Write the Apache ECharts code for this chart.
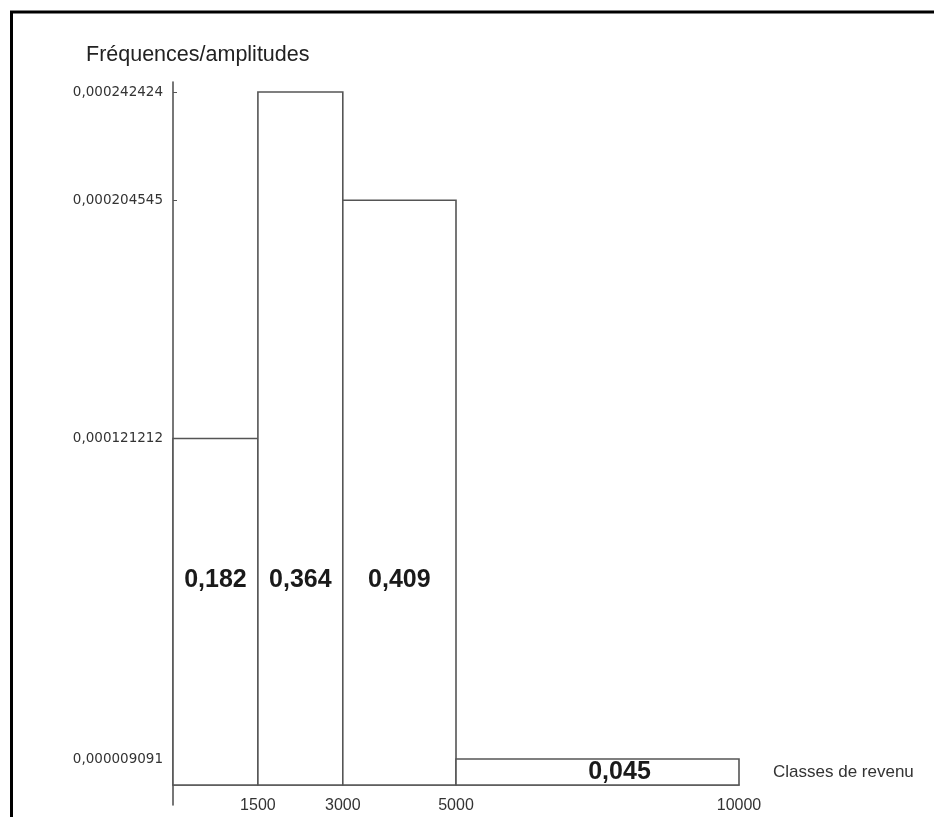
<!DOCTYPE html>
<html>
<head>
<meta charset="utf-8">
<script src="https://cdn.jsdelivr.net/npm/echarts@6/dist/echarts.min.js"></script>
<style>
  html, body { margin: 0; padding: 0; background: #fff; }
  #chart { width: 934px; height: 817px; }
</style>
</head>
<body>
<div id="chart"></div>
<script>
// Income classes (bounds), density = frequency / class width, and relative frequency
const classStarts = [0, 1500, 3000, 5000];
const classEnds = [1500, 3000, 5000, 10000];
const densities = [0.000121212, 0.000242424, 0.000204545, 0.000009091];
const frequencies = [0.182, 0.364, 0.409, 0.045];
const xTicks = [1500, 3000, 5000, 10000];
const yTicks = [0.000009091, 0.000121212, 0.000204545, 0.000242424];
const yMarkedTicks = [0.000204545, 0.000242424];

const histData = classStarts.map((s, i) => [s, classEnds[i], densities[i], frequencies[i]]);

const fmtComma = (v, d) => v.toFixed(d).replace('.', ',');

// Axis extent: a little headroom above the tallest class, and the vertical axis
// continues a bit below the horizontal one.
const yTop = densities[1] * 703 / 693;
const yBottom = -densities[1] * 20 / 693;

function renderItem(params, api) {
  const x0 = api.value(0), x1 = api.value(1), h = api.value(2), f = api.value(3);
  const topLeft = api.coord([x0, h]);
  const bottomRight = api.coord([x1, 0]);
  const w = bottomRight[0] - topLeft[0];
  const hPx = bottomRight[1] - topLeft[1];
  const tall = hPx > 100;
  const tx = topLeft[0] + w / 2 + (tall ? 0 : 22);
  const ty = tall ? bottomRight[1] - 205 : topLeft[1] + hPx / 2;
  return {
    type: 'group',
    children: [
      {
        type: 'rect',
        shape: { x: topLeft[0], y: topLeft[1], width: w, height: hPx },
        style: { fill: '#ffffff', stroke: '#555555', lineWidth: 1.6 }
      },
      {
        type: 'text',
        style: {
          text: fmtComma(f, 3),
          x: tx, y: ty,
          align: 'center', verticalAlign: 'middle',
          font: 'bold 25px "Liberation Sans", Arial, sans-serif',
          fill: '#1a1a1a'
        }
      }
    ]
  };
}

const chart = echarts.init(document.getElementById('chart'));
chart.setOption({
  backgroundColor: '#ffffff',
  animation: false,
  title: {
    text: 'Fréquences/amplitudes',
    left: 81, top: 39,
    textStyle: { fontFamily: '"Liberation Sans", Arial, sans-serif', fontSize: 21.5, fontWeight: 'normal', color: '#222' }
  },
  grid: { left: 173, right: 195, top: 82, bottom: 12, containLabel: false, outerBoundsMode: 'none' },
  xAxis: {
    type: 'value', min: 0, max: 10000,
    // the horizontal axis sits at zero, 20px above the bottom of the vertical axis
    offset: -20,
    name: 'Classes de revenu', nameLocation: 'end', nameGap: 34,
    nameTextStyle: {
      fontFamily: '"Liberation Sans", Arial, sans-serif', fontSize: 17, color: '#333',
      verticalAlign: 'bottom', lineHeight: 26
    },
    axisLine: { onZero: false, lineStyle: { color: '#555', width: 1.6 } },
    axisTick: { show: false },
    splitLine: { show: false },
    axisLabel: {
      customValues: xTicks, margin: 13,
      formatter: v => String(v),
      fontFamily: '"Liberation Sans", Arial, sans-serif', fontSize: 16, color: '#333'
    }
  },
  yAxis: {
    type: 'value', min: yBottom, max: yTop,
    axisLine: { show: true, onZero: false, lineStyle: { color: '#555', width: 1.6 } },
    axisTick: { show: true, inside: true, length: 4, customValues: yMarkedTicks, lineStyle: { color: '#555' } },
    splitLine: { show: false },
    axisLabel: {
      customValues: yTicks, margin: 10,
      formatter: v => fmtComma(v, 9),
      fontFamily: '"DejaVu Sans", sans-serif', fontSize: 13.5, color: '#333'
    }
  },
  graphic: [
    {
      type: 'polyline',
      shape: { points: [[11.5, 817], [11.5, 12], [934, 12]] },
      style: { stroke: '#000', lineWidth: 3, fill: null }
    }
  ],
  series: [{
    type: 'custom',
    renderItem: renderItem,
    encode: { x: [0, 1], y: 2 },
    data: histData
  }]
});
</script>
</body>
</html>
